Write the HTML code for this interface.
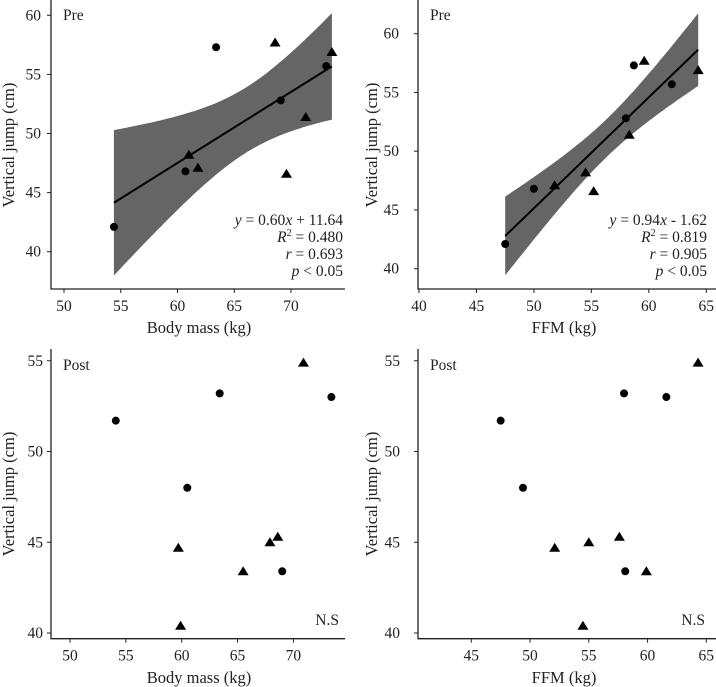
<!DOCTYPE html>
<html><head><meta charset="utf-8">
<style>
html,body{margin:0;padding:0;background:#fff;}
svg{display:block;font-family:"Liberation Serif",serif;}
</style></head>
<body>
<svg id="chart" width="716" height="687" viewBox="0 0 716 687"></svg>
<script>
// Panel A: Pre, body mass
const preBmCircleX = [54.4, 60.7, 63.4, 69.1, 73.1];
const preBmCircleY = [42.1, 46.8, 57.3, 52.8, 55.7];
const preBmTriX = [68.6, 73.6, 71.3, 61.0, 61.8, 69.6];
const preBmTriY = [57.7, 56.9, 51.4, 48.2, 47.1, 46.6];
// Panel B: Pre, FFM
const preFfmCircleX = [47.5, 50.0, 58.7, 58.0, 62.0];
const preFfmCircleY = [42.1, 46.8, 57.3, 52.8, 55.7];
const preFfmTriX = [59.6, 64.3, 58.3, 54.5, 51.8, 55.2];
const preFfmTriY = [57.7, 56.9, 51.4, 48.2, 47.1, 46.6];
// Panel C: Post, body mass
const postBmCircleX = [54.1, 63.4, 73.4, 60.5, 69.0];
const postBmCircleY = [51.7, 53.2, 53.0, 48.0, 43.4];
const postBmTriX = [70.9, 59.7, 67.9, 68.6, 65.5, 59.9];
const postBmTriY = [54.9, 44.7, 45.0, 45.3, 43.4, 40.4];
// Panel D: Post, FFM
const postFfmCircleX = [47.5, 58.0, 61.6, 49.4, 58.1];
const postFfmCircleY = [51.7, 53.2, 53.0, 48.0, 43.4];
const postFfmTriX = [64.3, 52.1, 55.0, 57.6, 59.9, 54.5];
const postFfmTriY = [54.9, 44.7, 45.0, 45.3, 43.4, 40.4];
// ticks
const bmTicksTop = [50, 55, 60, 65, 70];
const ffmTicksTop = [40, 45, 50, 55, 60, 65];
const bmTicksBot = [50, 55, 60, 65, 70];
const ffmTicksBot = [45, 50, 55, 60, 65];
const yTicksPre = [40, 45, 50, 55, 60];
const yTicksPost = [40, 45, 50, 55];
const statsBm = ["0.60", "11.64", "+", "0.480", "0.693"];
const statsFfm = ["0.94", "1.62", "-", "0.819", "0.905"];
const tCrit = 2.262; // t(0.975, df=9)

const NS = "http://www.w3.org/2000/svg";
const svg = document.getElementById('chart');
function mk(tag, attrs, parent){
  const e = document.createElementNS(NS, tag);
  for (const k in attrs) e.setAttribute(k, attrs[k]);
  (parent||svg).appendChild(e);
  return e;
}

function panel(cfg){
  const g = mk('g', {});
  
  
  const sx = v => cfg.x0px + (v - cfg.x0) * cfg.xs;
  const sy = v => cfg.y0px - (v - cfg.y0) * cfg.ys;
  if (cfg.fit){
    const xs = cfg.cx.concat(cfg.tx), ys = cfg.cy.concat(cfg.ty);
    const n = xs.length;
    const mx = xs.reduce((a,b)=>a+b,0)/n, my = ys.reduce((a,b)=>a+b,0)/n;
    let sxx=0, sxy=0; for(let i=0;i<n;i++){sxx+=(xs[i]-mx)**2; sxy+=(xs[i]-mx)*(ys[i]-my);}
    const b = sxy/sxx, a = my - b*mx;
    let sse=0; for(let i=0;i<n;i++){sse+=(ys[i]-a-b*xs[i])**2;}
    const s = Math.sqrt(sse/(n-2));
    const xmin = Math.min(...xs), xmax = Math.max(...xs);
    const up=[], lo=[];
    for(let k=0;k<=60;k++){
      const x = xmin + (xmax-xmin)*k/60;
      const h = tCrit*s*Math.sqrt(1/n + (x-mx)**2/sxx);
      up.push(sx(x).toFixed(1)+','+sy(a+b*x+h).toFixed(1));
      lo.unshift(sx(x).toFixed(1)+','+sy(a+b*x-h).toFixed(1));
    }
    const band = mk('polygon', {points: up.concat(lo).join(' '), fill:'#656565'}, g);
    
    
    const ln = mk('line', {x1:sx(xmin), y1:sy(a+b*xmin), x2:sx(xmax), y2:sy(a+b*xmax), stroke:'#000', 'stroke-width':2}, g);
    
    
  }
  const ax = mk('path', {d:`M${cfg.axX},${cfg.axTop} V${cfg.axY} H${cfg.axRight}`, stroke:'#222', 'stroke-width':1.3, fill:'none'}, g);
  
  
  cfg.xt.forEach(t=>{
    mk('line', {x1:sx(t), x2:sx(t), y1:cfg.axY, y2:cfg.axY+4, stroke:'#222','stroke-width':1}, g);
    const tl = mk('text', {x:sx(t), y:cfg.axY+22, 'text-anchor':'middle', 'font-size':15.5, fill:'#222'}, g);
    tl.textContent = t;
    
    
  });
  cfg.yt.forEach(t=>{
    mk('line', {x1:cfg.axX-4, x2:cfg.axX, y1:sy(t), y2:sy(t), stroke:'#222','stroke-width':1}, g);
    const tl = mk('text', {x:cfg.ylabX, y:sy(t)+5, 'text-anchor':'end', 'font-size':15.5, fill:'#222'}, g);
    tl.textContent = t;
    
    
  });
  const xtl = mk('text', {x:cfg.xTitleX, y:cfg.xTitleY, 'text-anchor':'middle', 'font-size':16.5, fill:'#222'}, g);
  xtl.textContent = cfg.xTitle;
  
  
  const ytl = mk('text', {transform:`translate(${cfg.yTitleX},${cfg.yTitleY}) rotate(-90)`, 'text-anchor':'middle', 'font-size':16.5, fill:'#222'}, g);
  ytl.textContent = 'Vertical jump (cm)';
  
  
  const pl = mk('text', {x:cfg.axX+12, y:cfg.labelY, 'font-size':15.5, fill:'#222'}, g);
  pl.textContent = cfg.label;
  
  
  cfg.cx.forEach((x,i)=>{
    const c = mk('circle', {cx:sx(x), cy:sy(cfg.cy[i]), r:4, fill:'#000'}, g);
    
    
  });
  cfg.tx.forEach((x,i)=>{
    const px = sx(x), py = sy(cfg.ty[i]);
    const t = mk('polygon', {points:`${px},${py-5} ${px-5.5},${py+4} ${px+5.5},${py+4}`, fill:'#000'}, g);
    
    
  });
  if (cfg.stats){
    const st = cfg.stats, rx = cfg.statsX, by = cfg.statsY;
    const lines = [
      `<tspan font-style="italic">y</tspan> = ${st[0]}<tspan font-style="italic">x</tspan> ${st[2]} ${st[1]}`,
      `<tspan font-style="italic">R</tspan><tspan font-size="10" dy="-6">2</tspan><tspan dy="6"> = ${st[3]}</tspan>`,
      `<tspan font-style="italic">r</tspan> = ${st[4]}`,
      `<tspan font-style="italic">p</tspan> &lt; 0.05`
    ];
    lines.forEach((h,i)=>{
      const t = mk('text', {x:rx, y:by+i*17, 'text-anchor':'end', 'font-size':15.5, fill:'#222'}, g);
      t.innerHTML = h;
      
      
    });
  }
  if (cfg.ns){
    const t = mk('text', {x:cfg.nsX, y:cfg.nsY, 'text-anchor':'end', 'font-size':15.5, fill:'#222'}, g);
    t.textContent = 'N.S';
    
    
  }
}

panel({name:'panel-pre-body-mass', x0:50, x0px:64, xs:11.35, y0:40, y0px:251.7, ys:11.82,
  axX:51, axY:289, axTop:0, axRight:345, ylabX:41, xt:bmTicksTop, yt:yTicksPre,
  xTitle:'Body mass (kg)', xTitleX:199, xTitleY:333, yTitleX:14, yTitleY:145, label:'Pre', labelY:20,
  cx:preBmCircleX, cy:preBmCircleY, tx:preBmTriX, ty:preBmTriY, fit:true, stats:statsBm, statsX:343, statsY:225});
panel({name:'panel-pre-ffm', x0:40, x0px:419, xs:11.49, y0:40, y0px:268.7, ys:11.75,
  axX:418, axY:289, axTop:0, axRight:716, ylabX:399, xt:ffmTicksTop, yt:yTicksPre,
  xTitle:'FFM (kg)', xTitleX:564, xTitleY:333, yTitleX:377, yTitleY:145, label:'Pre', labelY:20,
  cx:preFfmCircleX, cy:preFfmCircleY, tx:preFfmTriX, ty:preFfmTriY, fit:true, stats:statsFfm, statsX:707, statsY:225});
panel({name:'panel-post-body-mass', x0:50, x0px:70, xs:11.17, y0:40, y0px:633, ys:18.15,
  axX:51, axY:638.7, axTop:349, axRight:345, ylabX:43, xt:bmTicksBot, yt:yTicksPost,
  xTitle:'Body mass (kg)', xTitleX:199, xTitleY:683, yTitleX:14, yTitleY:494, label:'Post', labelY:370,
  cx:postBmCircleX, cy:postBmCircleY, tx:postBmTriX, ty:postBmTriY, fit:false, ns:true, nsX:339, nsY:625});
panel({name:'panel-post-ffm', x0:45, x0px:471.3, xs:11.75, y0:40, y0px:633, ys:18.15,
  axX:418, axY:638.7, axTop:349, axRight:716, ylabX:400, xt:ffmTicksBot, yt:yTicksPost,
  xTitle:'FFM (kg)', xTitleX:564, xTitleY:683, yTitleX:377, yTitleY:494, label:'Post', labelY:370,
  cx:postFfmCircleX, cy:postFfmCircleY, tx:postFfmTriX, ty:postFfmTriY, fit:false, ns:true, nsX:705, nsY:625});
</script>
</body></html>
